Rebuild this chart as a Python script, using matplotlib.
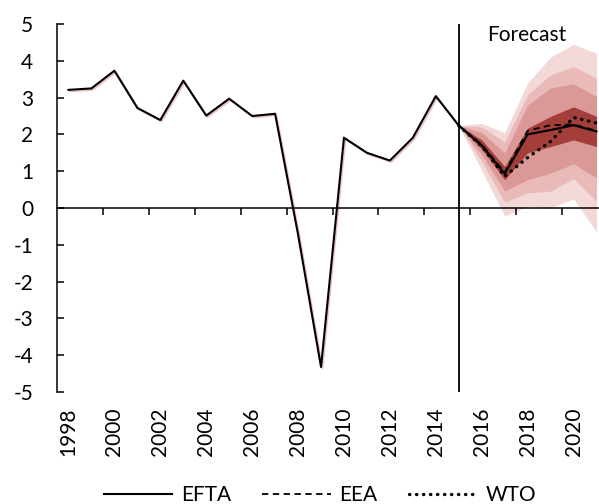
import matplotlib
matplotlib.use("Agg")
import matplotlib.pyplot as plt
import matplotlib.transforms as mtransforms
import numpy as np

plt.rcParams['font.family'] = ['Lato', 'DejaVu Sans']
plt.rcParams['axes.unicode_minus'] = False

# data
years = list(range(1998, 2022))
hist_years = list(range(1998, 2016))
fc_years = list(range(2015, 2022))

hist = [3.21, 3.25, 3.73, 2.72, 2.39, 3.46, 2.51, 2.97, 2.50, 2.56,
        -0.72, -4.32, 1.91, 1.50, 1.29, 1.91, 3.04, 2.24]
efta_fc = [2.24, 1.70, 0.93, 2.00, 2.12, 2.25, 2.08]
eea_fc = [2.24, 1.72, 0.97, 2.10, 2.25, 2.27, 2.10]
wto_fc = [2.24, 1.68, 0.86, 1.37, 1.81, 2.46, 2.31]

# fan bands (upper, lower), outermost first
outer_hi = [2.24, 2.30, 2.05, 3.40, 4.10, 4.45, 4.20]
outer_lo = [2.24, 1.02, -0.22, 0.05, 0.00, 0.25, -0.65]
band2_hi = [2.24, 2.20, 1.80, 3.08, 3.62, 3.84, 3.53]
band2_lo = [2.24, 1.27, 0.16, 0.41, 0.46, 0.80, 0.18]
band3_hi = [2.24, 2.05, 1.50, 2.80, 3.26, 3.37, 3.03]
band3_lo = [2.24, 1.45, 0.46, 0.77, 0.95, 1.20, 0.82]
dark_hi = [2.24, 1.85, 1.13, 2.17, 2.49, 2.75, 2.49]
dark_lo = [2.24, 1.60, 0.77, 1.50, 1.67, 1.85, 1.67]

fan_colors = ['#f2d9d8', '#e9bab8', '#da9896', '#a43e3b']

efta = hist + efta_fc[1:]

fig = plt.figure(figsize=(5.99, 5.04), dpi=100)
ax = fig.add_axes([57/599, 112/504, 551/599, 368/504])

bands = [(outer_hi, outer_lo), (band2_hi, band2_lo), (band3_hi, band3_lo), (dark_hi, dark_lo)]
for (hi, lo), c in zip(bands, fan_colors):
    ax.fill_between(fc_years, lo, hi, color=c, lw=0, zorder=1)

# faint pink shadow under the history line
shadow = ax.transData + mtransforms.ScaledTranslation(1/72, -1/72, fig.dpi_scale_trans)
ax.plot(hist_years, hist, color='#ecc0bf', lw=1.4, transform=shadow, zorder=2)

l_wto, = ax.plot(fc_years, wto_fc, color='black', lw=2.4, linestyle=(0, (0.1, 2.0)),
                 dash_capstyle='round', zorder=3)
l_eea, = ax.plot(fc_years, eea_fc, color='black', lw=1.3, linestyle=(0, (3.5, 2.5)), zorder=4)
l_efta, = ax.plot(years, efta, color='black', lw=1.5, zorder=5)

ax.axvline(2015, color='black', lw=1.3, zorder=6)
ax.text(2016.25, 4.97, 'Forecast', fontsize=15, ha='left', va='top')

ax.set_xlim(1997.5, 2021.5)
ax.set_ylim(-5, 5)
ax.spines['top'].set_visible(False)
ax.spines['right'].set_visible(False)
ax.spines['left'].set_linewidth(1.1)
ax.spines['bottom'].set_position(('data', 0))
ax.spines['bottom'].set_linewidth(1.1)

ax.set_xticks(np.arange(1999.5, 2020, 2))
ax.tick_params(axis='x', direction='out', length=5, width=1.1, labelbottom=False)
ax.set_yticks(range(-5, 6))
ax.tick_params(axis='y', direction='in', length=5, width=1.1, pad=17, labelsize=15)

secax = ax.secondary_xaxis(0.0)
secax.set_xticks(years[::2])
secax.set_xticklabels([str(y) for y in years[::2]], rotation=90)
secax.tick_params(length=0, pad=11, labelsize=15)
secax.spines['bottom'].set_visible(False)

fig.legend([l_efta, l_eea, l_wto], ['EFTA', 'EEA', 'WTO'], loc='center',
           bbox_to_anchor=(320/599, 1 - 495/504), ncol=3, frameon=False, fontsize=15,
           handlelength=3.3, handletextpad=0.4, columnspacing=1.5)

fig.savefig('out.png', dpi=100)
